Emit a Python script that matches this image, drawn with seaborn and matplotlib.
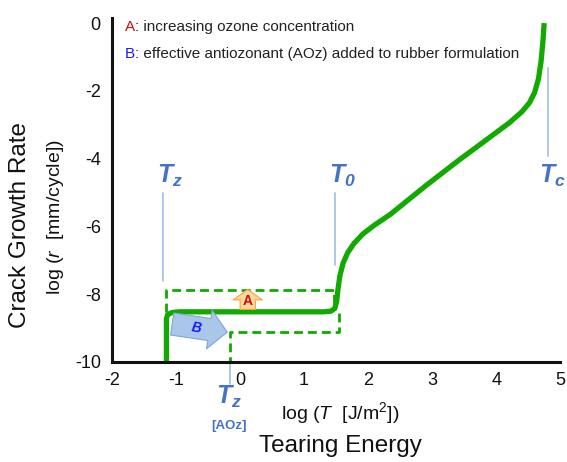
import matplotlib
matplotlib.use("Agg")
import matplotlib.pyplot as plt
import seaborn as sns
import pandas as pd

# ---- data ----
curve_x = [-1.15, -1.15, -1.13, -1.06, -0.95, 1.30, 1.42, 1.48, 1.51, 1.53, 1.56, 1.61, 1.68, 1.78, 1.92, 2.10, 2.35, 2.90, 3.40, 3.90, 4.20, 4.40, 4.52, 4.60, 4.66, 4.70, 4.73, 4.75]
curve_y = [-10.0, -8.72, -8.60, -8.54, -8.52, -8.52, -8.50, -8.42, -8.20, -7.85, -7.45, -7.08, -6.78, -6.50, -6.22, -5.96, -5.64, -4.80, -4.07, -3.37, -2.95, -2.62, -2.35, -2.05, -1.65, -1.15, -0.55, 0.0]

dashA_x = [-1.15, -1.15, 1.47, 1.47]
dashA_y = [-8.52, -7.88, -7.88, -8.40]
dashB_x = [1.55, 1.55, -0.15, -0.15]
dashB_y = [-8.55, -9.12, -9.12, -10.0]

xticks = [-2, -1, 0, 1, 2, 3, 4, 5]
yticks = [0, -2, -4, -6, -8, -10]

marker_x = [-1.20, 1.49, 4.81]
marker_lo = [-7.62, -7.15, -3.92]
marker_hi = [-5.00, -5.00, -1.32]
label_x = [-1.29, 1.39, 4.67]
label_y = -4.71
marker_labels = [r"$\mathbfit{T}_{\mathbfit{z}}$", r"$\mathbfit{T}_{\mathbfit{0}}$", r"$\mathbfit{T}_{\mathbfit{c}}$"]
aoz_x = -0.15

sns.set_theme(style="white")
plt.rcParams["font.family"] = ["Liberation Sans", "DejaVu Sans"]
plt.rcParams["mathtext.fontset"] = "custom"
plt.rcParams["mathtext.rm"] = "Liberation Sans"
plt.rcParams["mathtext.it"] = "Liberation Sans:italic"
plt.rcParams["mathtext.bf"] = "Liberation Sans:bold"
plt.rcParams["mathtext.bfit"] = "Liberation Sans:italic:bold"

GREEN = "#12aa00"
BLUE = "#4472c4"
LBLUE = "#a8c4e8"

fig = plt.figure(figsize=(5.67, 4.62), dpi=100)
ax = fig.add_axes([0.1975, 0.2165, 0.7905, 0.7445])

df_curve = pd.DataFrame({"x": curve_x, "y": curve_y})
df_a = pd.DataFrame({"x": dashA_x, "y": dashA_y})
df_b = pd.DataFrame({"x": dashB_x, "y": dashB_y})

# light blue marker lines and labels
for mx, lo, hi in zip(marker_x, marker_lo, marker_hi):
    ax.plot([mx, mx], [lo, hi], color=LBLUE, lw=1.3, zorder=1)
for lx, lab in zip(label_x, marker_labels):
    ax.text(lx, label_y, lab, color=BLUE, fontsize=18, ha="left", va="baseline")
ax.plot([aoz_x, aoz_x], [-10.0, -10.65], color=LBLUE, lw=1.3, clip_on=False, zorder=1)

sns.lineplot(data=df_a, x="x", y="y", sort=False, estimator=None, ax=ax,
             color=GREEN, lw=2.0, linestyle=(0, (3.2, 1.8)))
sns.lineplot(data=df_b, x="x", y="y", sort=False, estimator=None, ax=ax,
             color=GREEN, lw=2.0, linestyle=(0, (3.2, 1.8)))
sns.lineplot(data=df_curve, x="x", y="y", sort=False, estimator=None, ax=ax,
             color=GREEN, lw=3.8, solid_capstyle="butt", solid_joinstyle="round")

# arrows
ax.annotate("", xy=(0.12, -7.86), xytext=(0.12, -8.45),
            arrowprops=dict(arrowstyle="simple,head_length=0.75,head_width=2.1,tail_width=1.1",
                            mutation_scale=10, fc="#fcd79c", ec="#f0a840", lw=0.8, shrinkA=0, shrinkB=0))
ax.text(0.12, -8.2, "A", color="#cc1111", fontsize=10, fontweight="bold", ha="center", va="center")
ax.annotate("", xy=(-0.2, -9.12), xytext=(-1.06, -8.88),
            arrowprops=dict(arrowstyle="simple,head_length=1.3,head_width=2.8,tail_width=1.6",
                            mutation_scale=10, fc="#aac6e8", ec="#7fa6d6", lw=0.8, shrinkA=0, shrinkB=0))
ax.text(-0.68, -9.01, "B", color="#1a1aee", fontsize=10, fontweight="bold", fontstyle="italic",
        ha="center", va="center", rotation=-10)

# top notes
tA = ax.text(-1.8, -0.12, "A", color="#cc1111", fontsize=11, ha="left", va="center")
ax.annotate(": increasing ozone concentration", xy=(1, 0.5), xycoords=tA,
            color="#222222", fontsize=11, ha="left", va="center")
tB = ax.text(-1.8, -0.9, "B", color="#1a1aee", fontsize=11, ha="left", va="center")
ax.annotate(": effective antiozonant (AOz) added to rubber formulation", xy=(1, 0.5), xycoords=tB,
            color="#222222", fontsize=11, ha="left", va="center")

ax.set_xlim(-2, 5)
ax.set_ylim(-10, 0.15)
ax.set_xticks(xticks)
ax.set_yticks(yticks)
ax.set_xticklabels([str(v) for v in xticks])
ax.set_yticklabels([str(v) for v in yticks])
ax.tick_params(axis="both", length=0, labelsize=13, colors="#111111")
ax.tick_params(axis="x", pad=7)
ax.tick_params(axis="y", pad=8)
ax.set_xlabel("")
ax.set_ylabel("")
for s in ["top", "right"]:
    ax.spines[s].set_visible(False)
for s in ["left", "bottom"]:
    ax.spines[s].set_color("#111111")
    ax.spines[s].set_linewidth(2.2)

# axis titles
fig.text(20 / 567, 1 - 225 / 462, "Crack Growth Rate", rotation=90, fontsize=17.5, ha="center", va="center", color="#111111")
fig.text(55 / 567, 1 - 217 / 462, r"log ($\mathit{r}$  [mm/cycle])", rotation=90, fontsize=14, ha="center", va="center", color="#111111")
fig.text(340 / 567, 1 - 413 / 462, r"log ($\mathit{T}$  [J/m$^2$])", fontsize=14, ha="center", va="center", color="#111111")
fig.text(340 / 567, 1 - 446 / 462, "Tearing Energy", fontsize=17.5, ha="center", va="center", color="#111111")

# T_z [AOz]
fig.text(229 / 567, 1 - 397 / 462, r"$\mathbfit{T}_{\mathbfit{z}}$", color=BLUE, fontsize=18, ha="center", va="center")
fig.text(229 / 567, 1 - 426 / 462, "[AOz]", color=BLUE, fontsize=9.5, fontweight="bold", ha="center", va="center")

fig.savefig("out.png", dpi=100)
